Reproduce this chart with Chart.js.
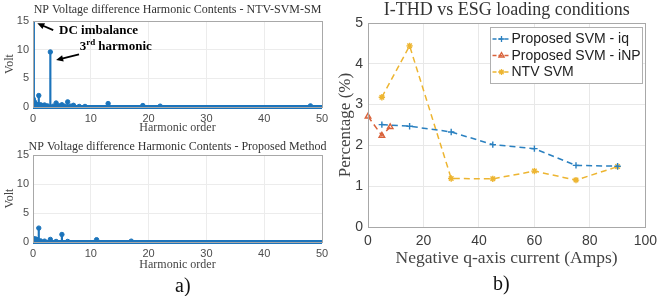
<!DOCTYPE html>
<html>
<head>
<meta charset="utf-8">
<script src="https://cdn.jsdelivr.net/npm/chart.js@4.4.1/dist/chart.umd.min.js"></script>
<style>
  html, body { margin: 0; padding: 0; background: #fff; }
  #page { position: relative; width: 663px; height: 296px; overflow: hidden; }
  canvas { position: absolute; }
  .panel-tag { position: absolute; font-family: 'Liberation Serif', serif; font-size: 20px; line-height: 1; color: #111; }
</style>
</head>
<body>
<div id="page">
  <canvas id="stemTop" width="340" height="140" style="left:0;top:0"></canvas>
  <canvas id="stemBottom" width="340" height="140" style="left:0;top:140px"></canvas>
  <canvas id="thdChart" width="333" height="270" style="left:330px;top:0"></canvas>
  <div class="panel-tag" style="left:175px;top:275px">a)</div>
  <div class="panel-tag" style="left:493px;top:273px">b)</div>
</div>
<script>
// a) harmonic spectrum of the NP voltage difference, NTV-SVM-SM
const harmOrderTop = [0.05, 0.15, 0.25, 0.35, 0.5, 0.65, 0.8, 1, 1.25, 1.5, 2, 2.5, 3, 3.5, 4, 4.5, 5, 5.5, 6, 6.5, 7, 8, 9, 13, 19, 22, 48];
const voltTop = [1.4, 15.8, 0.9, 0.6, 0.5, 0.4, 0.3, 2.0, 0.4, 0.3, 0.35, 0.2, 9.6, 0.15, 0.7, 0.2, 0.4, 0.15, 0.9, 0.15, 0.3, 0.1, 0.1, 0.6, 0.25, 0.15, 0.2];

// a) harmonic spectrum of the NP voltage difference, proposed method
const harmOrderBottom = [0.05, 0.15, 0.3, 0.45, 0.6, 0.8, 1, 1.3, 2, 3, 4, 5, 6, 11, 17];
const voltBottom = [0.5, 0.55, 0.5, 0.5, 0.45, 0.3, 2.4, 0.2, 0.15, 0.45, 0.1, 1.3, 0.1, 0.4, 0.15];

// dense low-level content along the whole spectrum
const floorOrder = [0, 50];
const floorVolt = [0, 0];

const harmTicks = [0, 10, 20, 30, 40, 50];
const voltTicks = [0, 5, 10, 15];

// b) I-THD vs negative q-axis current
const seriesLabels = ['Proposed SVM - iq', 'Proposed SVM - iNP', 'NTV SVM'];
const iqCurrent = [5, 15, 30, 45, 60, 75, 90];
const thdIq = [2.51, 2.47, 2.33, 2.02, 1.92, 1.51, 1.49];
const inpCurrent = [0, 5, 8];
const thdInp = [2.71, 2.24, 2.45];
const ntvCurrent = [5, 15, 30, 45, 60, 75, 90];
const thdNtv = [3.18, 4.44, 1.19, 1.18, 1.37, 1.15, 1.48];

const currentTicks = [0, 20, 40, 60, 80, 100];
const percentTicks = [0, 1, 2, 3, 4, 5];

const STEM_BLUE = '#1c74bb';
const SERIES_COLORS = ['#2a80c0', '#d9623a', '#edb531'];
const SERIES_MARKERS = ['cross', 'triangle', 'star'];

const toPoints = (xs, ys) => xs.map((x, i) => ({ x: x, y: ys[i] }));

/**
 * Full MATLAB-like box round the plot area
 */
const axesBox = {
    id: 'axesBox',
    afterDatasetsDraw(chart, args, opts) {
        const { ctx, chartArea: a } = chart;
        ctx.save();
        ctx.strokeStyle = opts.color || '#a6a6a6';
        ctx.lineWidth = 1;
        ctx.strokeRect(Math.round(a.left) + 0.5, Math.round(a.top) + 0.5, Math.round(a.width), Math.round(a.height));
        ctx.restore();
    }
};

/**
 * Axes title centred over the plot area (MATLAB style), not over the canvas
 */
const areaTitle = {
    id: 'areaTitle',
    afterDraw(chart, args, opts) {
        const { ctx, chartArea: a } = chart;
        ctx.save();
        ctx.font = opts.font;
        ctx.fillStyle = opts.color;
        ctx.textAlign = 'center';
        ctx.textBaseline = 'middle';
        ctx.fillText(opts.text, (a.left + a.right) / 2, opts.y);
        ctx.restore();
    }
};

function drawArrow(ctx, x0, y0, x1, y1) {
    const ang = Math.atan2(y1 - y0, x1 - x0);
    ctx.lineWidth = 1.8;
    ctx.beginPath();
    ctx.moveTo(x0, y0);
    ctx.lineTo(x1 - 5 * Math.cos(ang), y1 - 5 * Math.sin(ang));
    ctx.stroke();
    ctx.beginPath();
    ctx.moveTo(x1, y1);
    ctx.lineTo(x1 - 7 * Math.cos(ang) + 3.2 * Math.sin(ang), y1 - 7 * Math.sin(ang) - 3.2 * Math.cos(ang));
    ctx.lineTo(x1 - 7 * Math.cos(ang) - 3.2 * Math.sin(ang), y1 - 7 * Math.sin(ang) + 3.2 * Math.cos(ang));
    ctx.closePath();
    ctx.fill();
}

/**
 * Text callouts of the upper spectrum, placed in data coordinates
 */
const harmonicNotes = {
    id: 'harmonicNotes',
    afterDraw(chart) {
        const { ctx, scales: { x, y } } = chart;
        const px = v => x.getPixelForValue(v);
        const py = v => y.getPixelForValue(v);
        ctx.save();
        ctx.fillStyle = '#000';
        ctx.strokeStyle = '#000';
        ctx.textBaseline = 'middle';
        ctx.textAlign = 'left';

        ctx.font = 'bold 13px "Liberation Serif"';
        ctx.fillText('DC imbalance', px(4.5), py(13.4));
        drawArrow(ctx, px(3.5), py(13.4), px(0.75), py(14.6));

        let tx = px(8.1);
        const ty = py(10.45);
        ctx.fillText('3', tx, ty);
        tx += ctx.measureText('3').width;
        ctx.font = 'bold 9px "Liberation Serif"';
        ctx.fillText('rd', tx, ty - 4.5);
        tx += ctx.measureText('rd').width + 3;
        ctx.font = 'bold 13px "Liberation Serif"';
        ctx.fillText('harmonic', tx, ty);
        drawArrow(ctx, px(7.96), py(9.2), px(4.0), py(8.2));
        ctx.restore();
    }
};

/**
 * Build one stem plot of the harmonic contents
 */
function buildStemChart(canvasId, orders, volts, cfg) {
    const stems = toPoints(orders, volts);
    return new Chart(document.getElementById(canvasId), {
        type: 'bar',
        data: {
            datasets: [
                {
                    type: 'line',
                    data: toPoints(floorOrder, floorVolt),
                    borderColor: STEM_BLUE,
                    borderWidth: 4,
                    pointRadius: 0,
                    clip: false
                },
                {
                    type: 'line',
                    data: stems,
                    showLine: false,
                    pointRadius: 2.2,
                    pointBackgroundColor: STEM_BLUE,
                    pointBorderColor: STEM_BLUE,
                    pointBorderWidth: 1
                },
                {
                    type: 'bar',
                    data: stems,
                    backgroundColor: STEM_BLUE,
                    barThickness: 1.5
                }
            ]
        },
        options: {
            responsive: false,
            animation: false,
            events: [],
            layout: { padding: { left: 0, right: 18, top: cfg.topPad, bottom: 0 } },
            plugins: {
                legend: { display: false },
                tooltip: { enabled: false },
                title: { display: false },
                areaTitle: {
                    text: cfg.title,
                    font: '12px "Liberation Serif"',
                    color: '#333',
                    y: cfg.titleY
                },
                axesBox: { color: '#a8a8a8' }
            },
            scales: {
                x: {
                    type: 'linear',
                    min: 0,
                    max: 50,
                    offset: false,
                    afterBuildTicks: scale => { scale.ticks = harmTicks.map(v => ({ value: v })); },
                    afterFit: scale => { scale.height = cfg.xHeight; },
                    grid: { color: '#ececec', drawTicks: false, offset: false },
                    border: { display: false },
                    ticks: { color: '#4d4d4d', padding: 5, maxRotation: 0, font: { family: 'Liberation Sans', size: 11 } },
                    title: {
                        display: true,
                        text: 'Harmonic order',
                        color: '#444',
                        font: { family: 'Liberation Serif', size: 12 },
                        padding: { top: 0, bottom: cfg.xTitleBottom }
                    }
                },
                y: {
                    min: 0,
                    max: 15,
                    afterBuildTicks: scale => { scale.ticks = voltTicks.map(v => ({ value: v })); },
                    afterFit: scale => { scale.width = 33; },
                    grid: { color: '#ececec', drawTicks: false },
                    border: { display: false },
                    ticks: { color: '#4d4d4d', padding: 4, font: { family: 'Liberation Sans', size: 11 } },
                    title: {
                        display: true,
                        text: 'Volt',
                        color: '#444',
                        font: { family: 'Liberation Serif', size: 12 },
                        padding: { top: 2.8, bottom: 0 }
                    }
                }
            }
        },
        plugins: cfg.notes ? [axesBox, areaTitle, harmonicNotes] : [axesBox, areaTitle]
    });
}

buildStemChart('stemTop', harmOrderTop, voltTop, {
    title: 'NP Voltage difference Harmonic Contents - NTV-SVM-SM',
    topPad: 21,
    titleY: 10,
    xHeight: 33,
    xTitleBottom: 4.8,
    notes: true
});

buildStemChart('stemBottom', harmOrderBottom, voltBottom, {
    title: 'NP Voltage difference Harmonic Contents - Proposed Method',
    topPad: 15,
    titleY: 6.5,
    xHeight: 38,
    xTitleBottom: 7.8,
    notes: false
});

function drawMarker(ctx, style, x, y, r) {
    ctx.beginPath();
    if (style === 'cross') {
        ctx.moveTo(x - r, y); ctx.lineTo(x + r, y);
        ctx.moveTo(x, y - r); ctx.lineTo(x, y + r);
    } else if (style === 'triangle') {
        ctx.moveTo(x, y - r);
        ctx.lineTo(x + r * 0.87, y + r * 0.5);
        ctx.lineTo(x - r * 0.87, y + r * 0.5);
        ctx.closePath();
    } else {
        for (let k = 0; k < 4; k++) {
            const a = k * Math.PI / 4;
            ctx.moveTo(x - r * Math.cos(a), y - r * Math.sin(a));
            ctx.lineTo(x + r * Math.cos(a), y + r * Math.sin(a));
        }
    }
    ctx.stroke();
}

/**
 * Boxed legend in the upper right corner of the plot area
 */
const cornerLegend = {
    id: 'cornerLegend',
    afterDraw(chart) {
        const { ctx, chartArea: a } = chart;
        const w = 152, h = 56;
        const left = Math.round(a.right - w - 3) + 0.5;
        const top = Math.round(a.top + 4) + 0.5;
        ctx.save();
        ctx.fillStyle = '#fff';
        ctx.fillRect(left, top, w, h);
        ctx.strokeStyle = '#b0b0b0';
        ctx.lineWidth = 1;
        ctx.strokeRect(left, top, w, h);
        ctx.font = '14px "Liberation Sans"';
        ctx.textBaseline = 'middle';
        ctx.fillStyle = '#222';
        chart.data.datasets.forEach((ds, i) => {
            const ly = top + 11.5 + i * 16.5;
            ctx.strokeStyle = ds.borderColor;
            ctx.lineWidth = 1.3;
            ctx.setLineDash([4, 2]);
            ctx.beginPath();
            ctx.moveTo(left + 2, ly);
            ctx.lineTo(left + 20, ly);
            ctx.stroke();
            ctx.setLineDash([]);
            drawMarker(ctx, ds.pointStyle, left + 11, ly, 3);
            ctx.fillText(ds.label, left + 21, ly + 0.5);
        });
        ctx.restore();
    }
};

const thdSeries = [
    toPoints(iqCurrent, thdIq),
    toPoints(inpCurrent, thdInp),
    toPoints(ntvCurrent, thdNtv)
];

new Chart(document.getElementById('thdChart'), {
    type: 'line',
    data: {
        datasets: thdSeries.map((pts, i) => ({
            label: seriesLabels[i],
            data: pts,
            borderColor: SERIES_COLORS[i],
            backgroundColor: SERIES_COLORS[i],
            borderWidth: 1.5,
            borderDash: [6, 4],
            pointStyle: SERIES_MARKERS[i],
            pointRadius: 3.2,
            pointBorderWidth: 1.4,
            pointBackgroundColor: 'rgba(255,255,255,0)',
            pointBorderColor: SERIES_COLORS[i],
            tension: 0,
            clip: false
        }))
    },
    options: {
        responsive: false,
        animation: false,
        events: [],
        layout: { padding: { left: 0, right: 13, top: 23, bottom: 0 } },
        plugins: {
            legend: { display: false },
            tooltip: { enabled: false },
            title: { display: false },
            areaTitle: {
                text: 'I-THD vs ESG loading conditions',
                font: '18px "Liberation Serif"',
                color: '#333',
                y: 10.5
            },
            axesBox: { color: '#a8a8a8' }
        },
        scales: {
            x: {
                type: 'linear',
                min: 0,
                max: 100,
                afterBuildTicks: scale => { scale.ticks = currentTicks.map(v => ({ value: v })); },
                afterFit: scale => { scale.height = 43; },
                grid: { color: '#e8e8e8', drawTicks: false },
                border: { display: false },
                ticks: { color: '#3c3c3c', padding: 6, maxRotation: 0, font: { family: 'Liberation Sans', size: 14 } },
                title: {
                    display: true,
                    text: 'Negative q-axis current (Amps)',
                    color: '#444',
                    font: { family: 'Liberation Serif', size: 17.5 },
                    padding: { top: 0, bottom: 1.5 }
                }
            },
            y: {
                min: 0,
                max: 5,
                afterBuildTicks: scale => { scale.ticks = percentTicks.map(v => ({ value: v })); },
                afterFit: scale => { scale.width = 38; },
                grid: { color: '#e8e8e8', drawTicks: false },
                border: { display: false },
                ticks: { color: '#3c3c3c', padding: 5, font: { family: 'Liberation Sans', size: 14 } },
                title: {
                    display: true,
                    text: 'Percentage (%)',
                    color: '#444',
                    font: { family: 'Liberation Serif', size: 17 },
                    padding: { top: 5.8, bottom: 0 }
                }
            }
        }
    },
    plugins: [axesBox, areaTitle, cornerLegend]
});
</script>
</body>
</html>
